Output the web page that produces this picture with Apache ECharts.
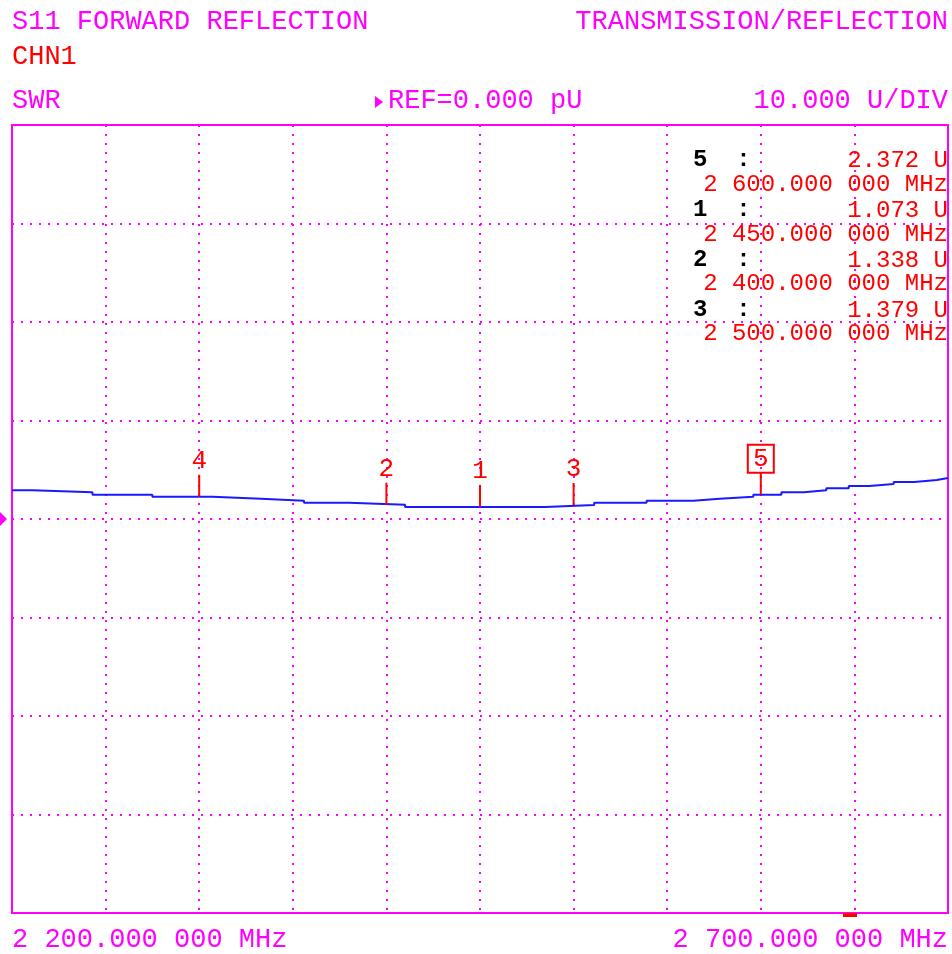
<!DOCTYPE html>
<html>
<head>
<meta charset="utf-8">
<script src="https://cdn.jsdelivr.net/npm/echarts@6/dist/echarts.min.js"></script>
<style>
  html, body { margin: 0; padding: 0; background: #fff; }
  #main { width: 952px; height: 954px; }
</style>
</head>
<body>
<div id="main"></div>
<script>
  // trace (MHz / U)
  const traceFreq = [2200, 2211, 2243, 2275, 2307, 2333, 2356, 2380, 2410, 2485, 2511, 2539,
    2564, 2578, 2596, 2611, 2623, 2635, 2647, 2658, 2671, 2682, 2694, 2700];
  const traceSwr = [2.91, 2.71, 2.47, 2.26, 2.06, 1.86, 1.65, 1.45, 1.22, 1.42, 1.65, 1.86,
    2.06, 2.26, 2.47, 2.71, 2.91, 3.12, 3.35, 3.55, 3.76, 3.96, 4.16, 4.16];

  // markers on the trace
  const markerFreq = [2300, 2400, 2450, 2500, 2600];
  const markerNames = ['4', '2', '1', '3', '5'];
  const activeMarker = '5';

  // marker readout table
  const readoutIds = ['5', '1', '2', '3'];
  const readoutValues = ['2.372', '1.073', '1.338', '1.379'];
  const readoutFreqs = ['2 600.000 000', '2 450.000 000', '2 400.000 000', '2 500.000 000'];

  const startLabel = '2 200.000 000 MHz';
  const stopLabel = '2 700.000 000 MHz';

  const MAG = '#ff00ff';
  const RED = '#ff0000';
  const FONT = 'Liberation Mono, DejaVu Sans Mono, monospace';

  function swrAt(f) {
    let v = traceSwr[0];
    for (let i = 0; i < traceFreq.length; i++) {
      if (traceFreq[i] <= f) v = traceSwr[i];
    }
    return v;
  }

  let chart = echarts.init(document.getElementById('main'));

  function txt(text, x, y, color, align, size, weight) {
    return {
      type: 'text', z: 100,
      style: {
        text: text, x: x, y: y, fill: color,
        font: (weight || 'normal') + ' ' + (size || 27) + 'px ' + FONT,
        align: align || 'left', verticalAlign: 'middle'
      }
    };
  }

  let graphics = [
    txt('S11 FORWARD REFLECTION', 12, 22, MAG),
    txt('TRANSMISSION/REFLECTION', 948, 22, MAG, 'right'),
    txt('CHN1', 12, 57, RED),
    txt('SWR', 12, 101, MAG),
    txt('REF=0.000 pU', 388, 101, MAG),
    txt('10.000 U/DIV', 948, 101, MAG, 'right'),
    txt(startLabel, 12, 940, MAG),
    txt(stopLabel, 948, 940, MAG, 'right'),
    { type: 'polygon', z: 100, shape: { points: [[375, 96], [383, 102], [375, 108]] }, style: { fill: MAG } },
    { type: 'polygon', z: 100, shape: { points: [[0, 512], [7, 519], [0, 526]] }, style: { fill: MAG } },
    { type: 'rect', z: 100, shape: { x: 843, y: 913, width: 14, height: 4 }, style: { fill: RED } }
  ];

  readoutIds.forEach(function (id, i) {
    graphics.push(txt(id + '  :', 693, 160 + 50 * i, '#000', 'left', 24, 'bold'));
    graphics.push(txt(readoutValues[i] + ' U', 948, 161 + 50 * i, RED, 'right', 24));
    graphics.push(txt(readoutFreqs[i] + ' MHz', 948, 185 + 49.5 * i, RED, 'right', 24));
  });

  let option = {
    animation: false,
    backgroundColor: '#fff',
    grid: {
      left: 12, right: 4, top: 125, bottom: 41,
      show: true, borderColor: MAG, borderWidth: 2, backgroundColor: 'transparent'
    },
    xAxis: {
      type: 'value', min: 2200, max: 2700, interval: 50,
      axisLine: { show: false }, axisTick: { show: false }, axisLabel: { show: false },
      splitLine: { show: true, lineStyle: { color: MAG, width: 2, type: [2, 7] } }
    },
    yAxis: {
      type: 'value', min: -40, max: 40, interval: 10,
      axisLine: { show: false }, axisTick: { show: false }, axisLabel: { show: false },
      splitLine: { show: true, lineStyle: { color: MAG, width: 2, type: [2, 7] } }
    },
    series: [
      {
        type: 'line',
        step: 'end',
        showSymbol: false,
        data: traceFreq.map(function (f, i) { return [f, traceSwr[i]]; }),
        lineStyle: { color: '#1a1aff', width: 2 },
        z: 5
      },
      {
        type: 'custom',
        z: 10,
        data: markerFreq.map(function (f) { return [f, swrAt(f)]; }),
        renderItem: function (params, api) {
          const p = api.coord([api.value(0), api.value(1)]);
          const name = markerNames[params.dataIndex];
          let children = [
            { type: 'line', shape: { x1: p[0], y1: p[1], x2: p[0], y2: p[1] - 22 }, style: { stroke: RED, lineWidth: 2 } },
            { type: 'text', style: { text: name, x: p[0], y: p[1] - 36, fill: RED, font: '26px ' + FONT, align: 'center', verticalAlign: 'middle' } }
          ];
          if (name === activeMarker) {
            children.push({ type: 'rect', shape: { x: p[0] - 13, y: p[1] - 50, width: 26, height: 28 }, style: { fill: 'none', stroke: RED, lineWidth: 2 } });
          }
          return { type: 'group', children: children };
        }
      }
    ],
    graphic: graphics
  };
  chart.setOption(option);
</script>
</body>
</html>
